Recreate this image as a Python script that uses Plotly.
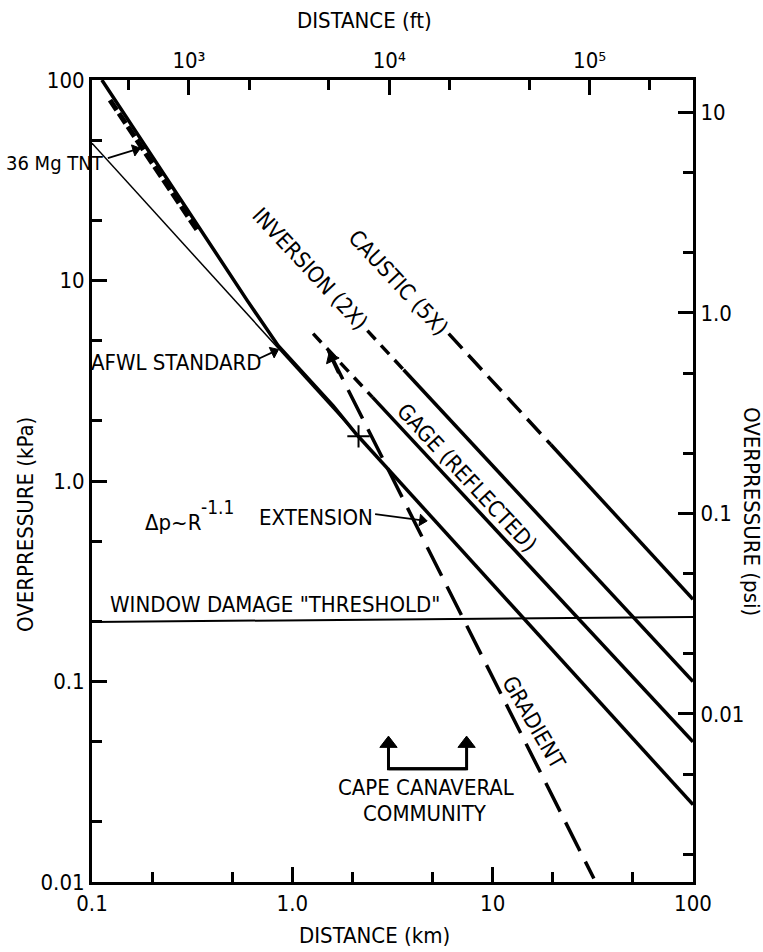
import plotly.graph_objects as go
import math

# ---------------- data (km, kPa) ----------------
ext_thin_x = [0.1, 2.1]
ext_thin_y = [48.4, 1.70]
ext_thick_x = [2.1, 100]
ext_thick_y = [1.70, 0.0243]

afwl_x = [0.112, 0.596, 0.85, 1.6, 2.1]
afwl_y = [100, 7.94, 4.73, 2.37, 1.70]

tnt_x = [0.123, 0.335]
tnt_y = [79.4, 17.8]

inv_dash_x = [1.27, 2.51]
inv_dash_y = [5.43, 2.62]
inv_solid_x = [2.51, 100]
inv_solid_y = [2.62, 0.05]

gage_dash_x = [2.37, 3.59]
gage_dash_y = [5.62, 3.59]
gage_solid_x = [3.59, 100]
gage_solid_y = [3.59, 0.1]

caus_dash_x = [6.03, 19.5]
caus_dash_y = [5.43, 1.52]
caus_solid_x = [19.5, 100]
caus_solid_y = [1.52, 0.257]

grad_x = [1.514, 32.0]
grad_y = [4.47, 0.0104]

window_x = [0.1, 100]
window_y = [0.198, 0.21]

cape_left_x = [7.41, 3.02, 3.02]
cape_left_y = [0.0367, 0.0367, 0.049]
cape_right_x = [3.02, 7.41, 7.41]
cape_right_y = [0.0367, 0.0367, 0.049]

cross_x = [2.14]
cross_y = [1.67]

# arrows (tail -> tip), km / kPa
tnt_arrow_x = [0.120, 0.165]
tnt_arrow_y = [40.8, 44.9]
afwl_arrow_x = [0.674, 0.81]
afwl_arrow_y = [4.06, 4.42]
ext_arrow_x = [2.59, 4.45]
ext_arrow_y = [0.684, 0.637]
grad_arrow_x = [1.70, 1.57]
grad_arrow_y = [3.45, 4.10]

# axis ticks
km_ticks = [0.1, 1, 10, 100]
km_text = ["0.1", "1.0", "10", "100"]
km_minor = [0.2, 0.5, 2, 5, 20, 50]
kpa_ticks = [0.01, 0.1, 1, 10, 100]
kpa_text = ["0.01", "0.1", "1.0", "10", "100"]
kpa_minor = [0.02, 0.05, 0.2, 0.5, 2, 5, 20, 50]
ft_ticks = [1000, 10000, 100000]
ft_text = ["10³", "10⁴", "10⁵"]
ft_minor = [500, 2000, 5000, 20000, 50000, 200000]
psi_ticks = [0.01, 0.1, 1, 10]
psi_text = ["0.01", "0.1", "1.0", "10"]
psi_minor = [0.002, 0.005, 0.02, 0.05, 0.2, 0.5, 2, 5]

KM_PER_FT = 0.0003048
KPA_PER_PSI = 6.894757

FONT = "Liberation Sans Narrow, DejaVu Sans Condensed, Arial Narrow, sans-serif"
BLACK = "black"

# plot area in pixels
X0, X1, Y0, Y1 = 92, 693, 80, 882
W, H = 763, 952


def P(px, py):
    return (px - X0) / (X1 - X0), 1 - (py - Y0) / (Y1 - Y0)


fig = go.Figure()


def line(x, y, width, dash="solid"):
    fig.add_trace(go.Scatter(x=x, y=y, mode="lines",
                             line=dict(color=BLACK, width=width, dash=dash),
                             showlegend=False, hoverinfo="skip"))


def arrow_line(x, y, width, head=12):
    sizes = [0] * (len(x) - 1) + [head]
    fig.add_trace(go.Scatter(x=x, y=y, mode="lines+markers",
                             line=dict(color=BLACK, width=width),
                             marker=dict(symbol="triangle-up", size=sizes, angleref="previous",
                                         color=BLACK, opacity=1,
                                         line=dict(color=BLACK, width=1)),
                             opacity=1, showlegend=False, hoverinfo="skip"))


line(window_x, window_y, 2)
line(ext_thin_x, ext_thin_y, 1.5)
line(ext_thick_x, ext_thick_y, 3.5)
line(afwl_x, afwl_y, 3.5)
line(tnt_x, tnt_y, 5, "12px,4px")
line(inv_dash_x, inv_dash_y, 3.5, "12px,8px")
line(inv_solid_x, inv_solid_y, 3.5)
line(gage_dash_x, gage_dash_y, 3.5, "12px,8px")
line(gage_solid_x, gage_solid_y, 3.5)
line(caus_dash_x, caus_dash_y, 3.5, "20px,9px")
line(caus_solid_x, caus_solid_y, 3.5)
line(grad_x, grad_y, 3.5, "32px,12px")

arrow_line(cape_left_x, cape_left_y, 3, 15)
arrow_line(cape_right_x, cape_right_y, 3, 15)
arrow_line(tnt_arrow_x, tnt_arrow_y, 1.8, 10)
arrow_line(afwl_arrow_x, afwl_arrow_y, 1.8, 10)
arrow_line(ext_arrow_x, ext_arrow_y, 1.8, 10)
arrow_line(grad_arrow_x, grad_arrow_y, 3, 12)

fig.add_trace(go.Scatter(x=cross_x, y=cross_y, mode="markers",
                         marker=dict(symbol="cross-thin", size=16,
                                     line=dict(color=BLACK, width=2)),
                         showlegend=False, hoverinfo="skip"))

# invisible trace to activate secondary axes
fig.add_trace(go.Scatter(x=[1000], y=[1], xaxis="x2", yaxis="y2", mode="markers",
                         marker=dict(opacity=0), showlegend=False, hoverinfo="skip"))

tickfont = dict(family=FONT, size=22, color=BLACK)
common = dict(type="log", showgrid=False, zeroline=False, showline=True,
              linecolor=BLACK, linewidth=3, ticks="inside", ticklen=15,
              tickwidth=2.5, tickcolor=BLACK, tickfont=tickfont,
              tickmode="array")


def minor(vals, ln=10):
    return dict(tickmode="array", tickvals=vals, ticks="inside", ticklen=ln,
                tickwidth=2.5, tickcolor=BLACK, showgrid=False)


fig.update_layout(
    width=W, height=H,
    margin=dict(l=X0, r=W - X1, t=Y0, b=H - Y1),
    paper_bgcolor="white", plot_bgcolor="white",
    xaxis=dict(range=[-1, 2], tickvals=km_ticks, ticktext=km_text,
               minor=minor(km_minor), **common),
    yaxis=dict(range=[-2, 2], tickvals=kpa_ticks, ticktext=kpa_text,
               minor=minor(kpa_minor), **common),
    xaxis2=dict(range=[math.log10(0.1 / KM_PER_FT), math.log10(100 / KM_PER_FT)],
                overlaying="x", side="top", anchor="y",
                tickvals=ft_ticks, ticktext=ft_text, minor=minor(ft_minor), **common),
    yaxis2=dict(range=[math.log10(0.01 / KPA_PER_PSI), math.log10(100 / KPA_PER_PSI)],
                overlaying="y", side="right", anchor="x",
                tickvals=psi_ticks, ticktext=psi_text, minor=minor(psi_minor), **common),
)

anns = []


def text(t, px, py, angle=0, size=22, xanchor="center"):
    x, y = P(px, py)
    anns.append(dict(text=t, x=x, y=y, xref="paper", yref="paper", showarrow=False,
                     textangle=angle, xanchor=xanchor, yanchor="middle",
                     font=dict(family=FONT, size=size, color=BLACK)))


text("36 Mg TNT", 55, 163, size=20)
text("AFWL STANDARD", 176, 362)
text("Δp~R", 143, 522, xanchor="left")
text("-1.1", 199, 507, size=19, xanchor="left")
text("EXTENSION", 316, 517)
text("WINDOW DAMAGE \"THRESHOLD\"", 108, 604, xanchor="left")
text("INVERSION (2X)", 310, 268, angle=47)
text("CAUSTIC (5X)", 398, 283, angle=47)
text("GAGE (REFLECTED)", 467, 477, angle=47)
text("GRADIENT", 534, 722, angle=60)
text("CAPE CANAVERAL", 426, 787)
text("COMMUNITY", 425, 813)
text("DISTANCE (km)", 374, 935)
text("DISTANCE (ft)", 364, 21)
text("OVERPRESSURE (kPa)", 25, 525, angle=-90)
text("OVERPRESSURE (psi)", 752, 511, angle=90)

fig.update_layout(annotations=anns)
fig.write_html("out.html")
